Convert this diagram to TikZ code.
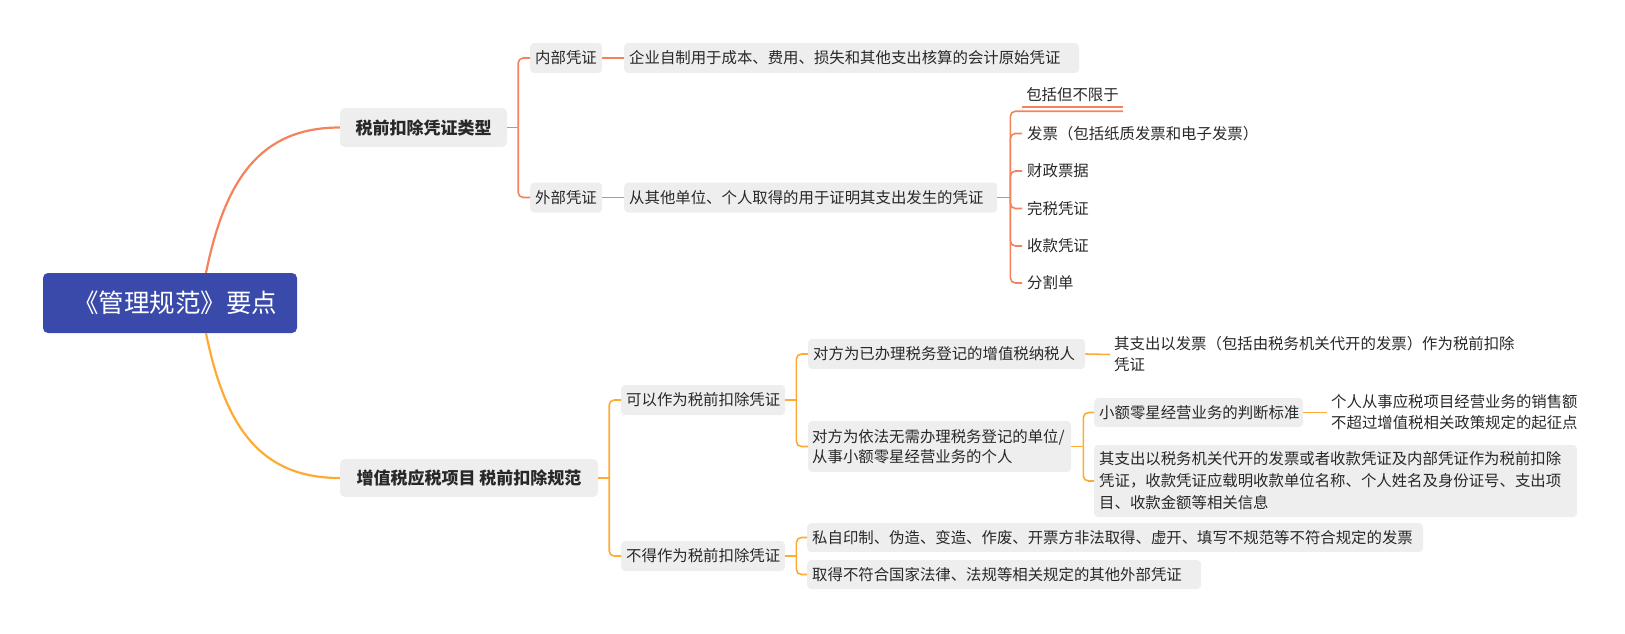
\documentclass[tikz,border=0pt]{standalone}
\usepackage{fontspec}
\setmainfont{Noto Sans CJK SC}
\usetikzlibrary{calc}
\definecolor{coral}{RGB}{244,130,92}
\definecolor{amber}{RGB}{255,170,51}
\definecolor{boxgray}{RGB}{238,238,238}
\definecolor{ink}{RGB}{40,40,40}
\definecolor{rootblue}{RGB}{58,74,170}
\newcommand{\fsN}{\fontsize{15.4pt}{20pt}\selectfont}
\newcommand{\fsP}{\fontsize{15.4pt}{21pt}\selectfont}
\newcommand{\fsW}{\fontsize{15.4pt}{22pt}\selectfont}
\newcommand{\fsB}{\fontsize{17pt}{20pt}\selectfont\bfseries}
\newcommand{\fsR}{\fontsize{25.5pt}{28pt}\selectfont}
\begin{document}
\begin{tikzpicture}[x=1pt,y=-1pt,
  every node/.style={text=ink},
  box/.style={fill=boxgray, rounded corners=4pt, inner xsep=5pt, inner ysep=0pt, align=left, anchor=west, font=\fsN},
  plain/.style={inner xsep=4pt, inner ysep=0pt, align=left, anchor=west, font=\fsP},
  item/.style={inner xsep=5pt, inner ysep=0pt, anchor=west, font=\fsN},
  major/.style={fill=boxgray, rounded corners=5pt, inner sep=0pt, font=\fsB},
  mainA/.style={draw=coral, line width=2.2pt},
  mainB/.style={draw=amber, line width=2.2pt},
  lA/.style={draw=coral, line width=1.6pt, rounded corners=5pt},
  lB/.style={draw=amber, line width=1.6pt, rounded corners=5pt}]
\useasboundingbox (0,0) rectangle (1625,633);

% root and main topics
\node[fill=rootblue, rounded corners=5pt, minimum width=254pt, minimum height=60pt, inner sep=0pt, text=white, font=\fsR] (root) at (170,303) {\hspace*{10pt}《管理规范》要点};
\node[major, minimum width=167pt, minimum height=39pt] (b1) at (423.5,127.5) {税前扣除凭证类型};
\node[major, minimum width=258pt, minimum height=38pt] (b2) at (469,478) {增值税应税项目 税前扣除规范};

% branch 1
\node[box, text width=62pt, minimum height=30pt] (n1) at (530,58) {内部凭证};
\node[box, text width=62pt, minimum height=30pt] (n2) at (530,197.5) {外部凭证};
\node[box, text width=445pt, minimum height=30pt] (n1a) at (624,58) {企业自制用于成本、费用、损失和其他支出核算的会计原始凭证};
\node[box, text width=363pt, minimum height=30pt] (n2a) at (624,197.5) {从其他单位、个人取得的用于证明其支出发生的凭证};
\node[inner xsep=0pt, inner ysep=0pt, minimum width=101pt, minimum height=32pt, font=\fsN] (inc) at (1072.5,95) {包括但不限于};
\node[item] (i1) at (1022,133.5) {发票（包括纸质发票和电子发票）};
\node[item] (i2) at (1022,171) {财政票据};
\node[item] (i3) at (1022,208.5) {完税凭证};
\node[item] (i4) at (1022,246) {收款凭证};
\node[item] (i5) at (1022,283) {分割单};

% branch 2
\node[box, text width=154pt, minimum height=30pt] (c1) at (621,400) {可以作为税前扣除凭证};
\node[box, text width=154pt, minimum height=30pt] (c2) at (621,556) {不得作为税前扣除凭证};
\node[box, text width=267pt, minimum height=30pt] (c1a) at (808,354) {对方为已办理税务登记的增值税纳税人};
\node[box, text width=255pt, minimum height=51pt, inner xsep=4pt] (c1b) at (808,446.5) {对方为依法无需办理税务登记的单位/\\从事小额零星经营业务的个人};
\node[plain, text width=420pt] (c1a1) at (1110,354.5) {其支出以发票（包括由税务机关代开的发票）作为税前扣除\\凭证};
\node[box, text width=199pt, minimum height=29pt] (c1b1) at (1094,412.5) {小额零星经营业务的判断标准};
\node[box, text width=473pt, minimum height=72pt, font=\fsW] (c1b2) at (1094,481) {其支出以税务机关代开的发票或者收款凭证及内部凭证作为税前扣除\\凭证，收款凭证应载明收款单位名称、个人姓名及身份证号、支出项\\目、收款金额等相关信息};
\node[plain, text width=260pt] (c1b11) at (1327,412.5) {个人从事应税项目经营业务的销售额\\不超过增值税相关政策规定的起征点};
\node[box, text width=606pt, minimum height=29pt] (c2a) at (807,537.5) {私自印制、伪造、变造、作废、开票方非法取得、虚开、填写不规范等不符合规定的发票};
\node[box, text width=384pt, minimum height=29pt] (c2b) at (807,574.5) {取得不符合国家法律、法规等相关规定的其他外部凭证};

% main curves
\draw[mainA] ($(root.north)+(36,0)$) .. controls +(19,-93) and +(-80,0) .. (b1.west);
\draw[mainB] ($(root.south)+(36,0)$) .. controls +(19,93) and +(-80,0) .. (b2.west);

% branch 1 connectors
\draw[lA] (b1.east) -- ++(11,0) coordinate (j1);
\draw[lA] (j1) |- (n1.west);
\draw[lA] (j1) |- (n2.west);
\draw[lA] (n1.east) -- (n1a.west);
\draw[lA] (n2.east) -- (n2a.west);
\draw[lA] (n2a.east) -- ++(13,0) coordinate (j3);
\draw[lA] (j3) |- (inc.south east);
\draw[lA] ([yshift=4pt]inc.south west) -- ([yshift=4pt]inc.south east);
\foreach \k in {i1,i2,i3,i4,i5} { \draw[lA] (j3) |- (\k.west); }

% branch 2 connectors
\draw[lB] (b2.east) -- ++(11,0) coordinate (j2);
\draw[lB] (j2) |- (c1.west);
\draw[lB] (j2) |- (c2.west);
\draw[lB] (c1.east) -- ++(11,0) coordinate (jc1);
\draw[lB] (jc1) |- (c1a.west);
\draw[lB] (jc1) |- (c1b.west);
\draw[lB] (c1a.east) -- (c1a1.west);
\draw[lB] (c1b.east) -- ++(12,0) coordinate (jc1b);
\draw[lB] (jc1b) |- (c1b1.west);
\draw[lB] (jc1b) |- (c1b2.west);
\draw[lB] (c1b1.east) -- (c1b11.west);
\draw[lB] (c2.east) -- ++(11,0) coordinate (jc2);
\draw[lB] (jc2) |- (c2a.west);
\draw[lB] (jc2) |- (c2b.west);
\end{tikzpicture}
\end{document}
